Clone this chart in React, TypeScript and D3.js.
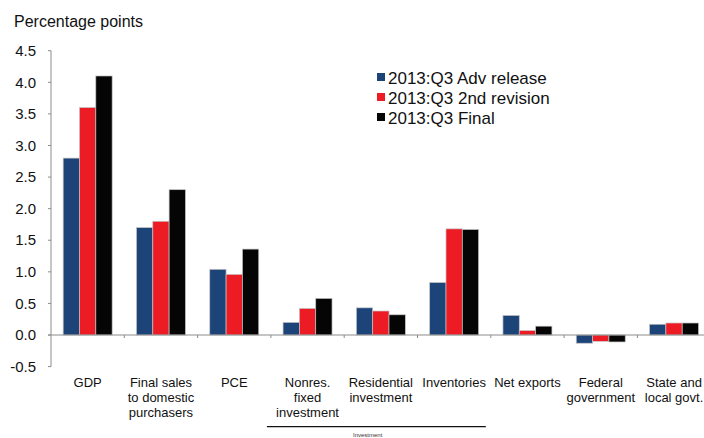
import React from "react";
import * as d3 from "d3";

const categories = [
  "GDP",
  "Final sales to domestic purchasers",
  "PCE",
  "Nonres. fixed investment",
  "Residential investment",
  "Inventories",
  "Net exports",
  "Federal government",
  "State and local govt.",
];
const categoryLines = [
  ["GDP"],
  ["Final sales", "to domestic", "purchasers"],
  ["PCE"],
  ["Nonres.", "fixed", "investment"],
  ["Residential", "investment"],
  ["Inventories"],
  ["Net exports"],
  ["Federal", "government"],
  ["State and", "local govt."],
];
const seriesNames = ["2013:Q3 Adv release", "2013:Q3 2nd revision", "2013:Q3 Final"];
const advRelease = [2.8, 1.7, 1.04, 0.2, 0.43, 0.83, 0.31, -0.13, 0.17];
const secondRevision = [3.6, 1.8, 0.96, 0.42, 0.38, 1.68, 0.07, -0.1, 0.19];
const finalRelease = [4.1, 2.3, 1.36, 0.58, 0.32, 1.67, 0.14, -0.11, 0.19];
const seriesColors = ["#1c4479", "#ed1c24", "#050505"];
const yTicks = [-0.5, 0, 0.5, 1, 1.5, 2, 2.5, 3, 3.5, 4, 4.5];

const FONT = "'Liberation Sans', Arial, Helvetica, sans-serif";

export default function App() {
  const W = 704;
  const H = 438;
  const axisX = 51;
  const y = d3.scaleLinear().domain([-0.5, 4.5]).range([366.6, 50.7]);
  const x = d3
    .scaleBand<string>()
    .domain(categories)
    .range([axisX, axisX + 9 * 73.3])
    .padding(0);
  const inner = d3
    .scaleBand<number>()
    .domain([0, 1, 2])
    .range([0, x.bandwidth()])
    .paddingInner(0)
    .paddingOuter(0.745);
  const series = [advRelease, secondRevision, finalRelease];
  const axisColor = "#8c8c8c";
  const fmt = (t: number) => t.toFixed(1);

  return (
    <svg
      width={W}
      height={H}
      style={{ position: "absolute", left: 0, top: 0, background: "#fff" }}
      fontFamily={FONT}
    >
      <rect x={0} y={0} width={W} height={H} fill="#fff" />
      <text x={14} y={27.3} fontSize={16} fill="#111">
        Percentage points
      </text>

      {/* y axis */}
      <line x1={axisX} x2={axisX} y1={y(4.5)} y2={y(-0.5)} stroke={axisColor} strokeWidth={1} />
      {yTicks.map((t) => (
        <g key={t}>
          <line x1={axisX - 3} x2={axisX} y1={y(t)} y2={y(t)} stroke={axisColor} strokeWidth={1} />
          <text x={36} y={y(t)} dy="0.35em" fontSize={15} textAnchor="end" fill="#111">
            {fmt(t)}
          </text>
        </g>
      ))}

      {/* bars */}
      {series.map((vals, si) => (
        <g key={si}>
          {categories.map((c, ci) => {
            const v = vals[ci];
            const x0 = (x(c) as number) + (inner(si) as number);
            const yTop = y(Math.max(0, v));
            const yBot = y(Math.min(0, v));
            return (
              <rect
                key={c}
                x={x0}
                y={yTop}
                width={inner.bandwidth()}
                height={yBot - yTop}
                fill={seriesColors[si]}
                stroke="#c4c4c4"
                strokeWidth={0.7}
              />
            );
          })}
        </g>
      ))}

      {/* x axis */}
      <line x1={axisX - 3} x2={W} y1={y(0)} y2={y(0)} stroke={axisColor} strokeWidth={1.2} />
      {categories.slice(1).map((c) => (
        <line
          key={c}
          x1={x(c) as number}
          x2={x(c) as number}
          y1={y(0)}
          y2={y(0) + 3}
          stroke={axisColor}
          strokeWidth={1}
        />
      ))}

      {/* category labels */}
      {categories.map((c, ci) => (
        <text
          key={c}
          x={(x(c) as number) + x.bandwidth() / 2}
          y={387.3}
          fontSize={13}
          textAnchor="middle"
          fill="#111"
        >
          {categoryLines[ci].map((line, li) => (
            <tspan key={li} x={(x(c) as number) + x.bandwidth() / 2} dy={li === 0 ? 0 : 15}>
              {line}
            </tspan>
          ))}
        </text>
      ))}

      {/* investment bracket */}
      <line
        x1={(x(categories[3]) as number) - 4}
        x2={(x(categories[5]) as number) + x.bandwidth() - 5}
        y1={426.7}
        y2={426.7}
        stroke="#111"
        strokeWidth={1.3}
      />
      <text x={353} y={436.5} fontSize={6} fill="#333">
        Investment
      </text>

      {/* legend */}
      {seriesNames.map((name, i) => (
        <g key={name}>
          <rect x={377} y={73 + i * 20} width={8} height={8} fill={seriesColors[i]} />
          <text x={388} y={84.3 + i * 20} fontSize={17} fill="#111">
            {name}
          </text>
        </g>
      ))}
    </svg>
  );
}
